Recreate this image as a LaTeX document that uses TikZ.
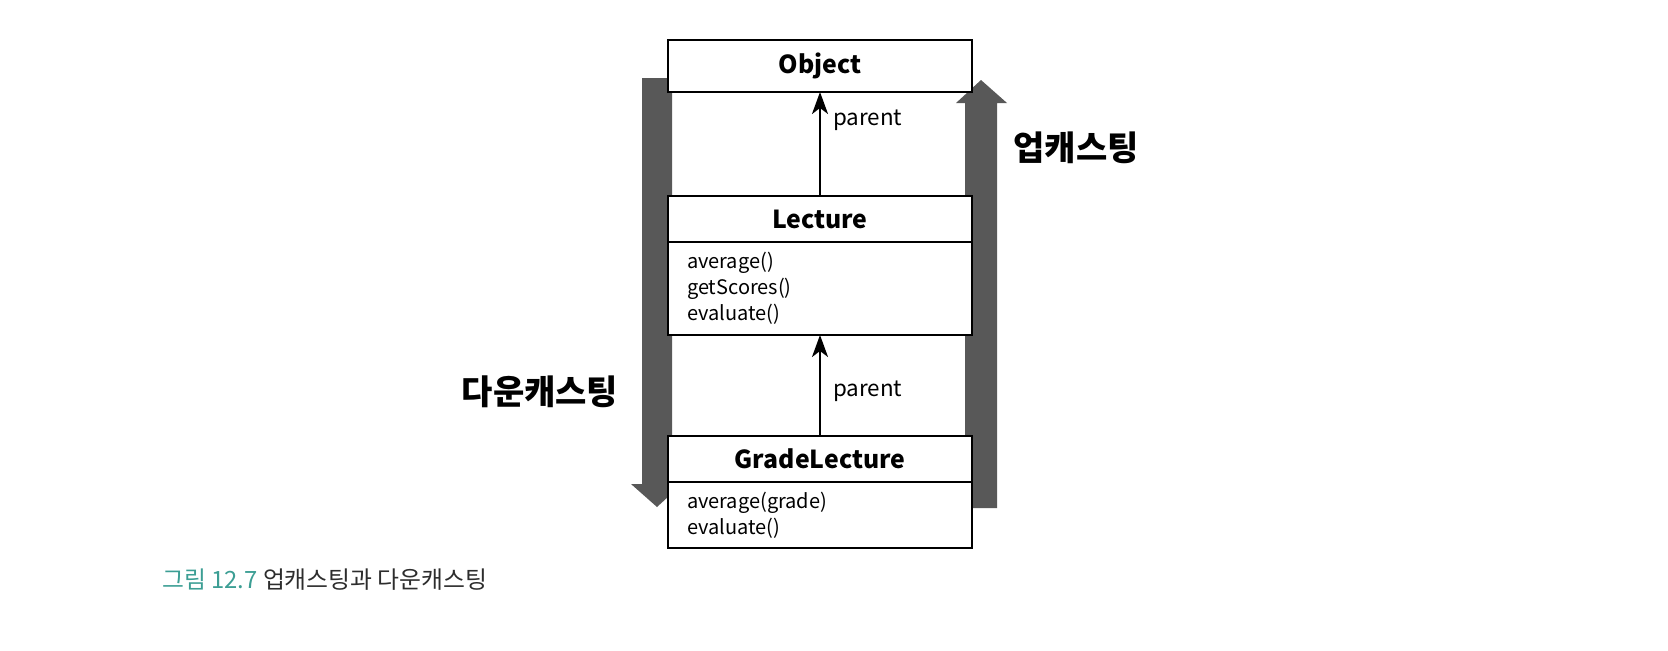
\documentclass[tikz,border=0pt]{standalone}
\usepackage{fontspec}
\setmainfont{Noto Sans CJK KR}
\usetikzlibrary{positioning,arrows.meta}
\definecolor{castgray}{RGB}{88,88,88}
\definecolor{capteal}{RGB}{60,158,148}
\definecolor{captext}{RGB}{45,45,45}
\tikzset{
  classname/.style={draw, line width=1pt, fill=white, minimum width=152pt, inner sep=0pt, outer sep=0pt, font=\fontsize{12.4}{15}\selectfont\bfseries},
  classbody/.style={draw, line width=1pt, fill=white, text width=133pt, inner xsep=9.5pt, inner ysep=0pt, outer sep=0pt, align=left, font=\fontsize{10}{13}\selectfont},
  inherit/.style={line width=1pt, -{Stealth[length=11pt,width=8pt,inset=3pt]}},
  parentlabel/.style={right, inner xsep=6pt, font=\fontsize{11.2}{13}\selectfont},
  castbar/.style={fill=castgray},
  castlabel/.style={font=\fontsize{17}{20}\selectfont\bfseries},
}
\begin{document}
\begin{tikzpicture}[x=0.5pt, y=-0.5pt]
  \useasboundingbox (0,0) rectangle (1668,650);
  \fill[castbar] (642,78) -- (672,78) -- (672,484) -- (682,484) -- (657,507) -- (631,484) -- (642,484) -- cycle;
  \fill[castbar] (965,508) -- (997,508) -- (997,103) -- (1007,103) -- (981,80) -- (956,103) -- (965,103) -- cycle;
  \node[classname, minimum height=26pt] (obj) at (820,66) {Object};
  \node[classname, minimum height=23pt] (lec) at (820,219) {Lecture};
  \node[classbody, minimum height=46.5pt, below=0pt of lec] (lecbody) {average()\\getScores()\\evaluate()};
  \node[classname, minimum height=23pt] (grade) at (820,459) {GradeLecture};
  \node[classbody, minimum height=33pt, below=0pt of grade] (gradebody) {average(grade)\\evaluate()};
  \draw[inherit] (lec.north) -- node[pos=0.73, parentlabel] {parent} (obj.south);
  \draw[inherit] (grade.north) -- node[pos=0.44, parentlabel] {parent} (lecbody.south);
  \node[castlabel] (up) at (1076,148) {업캐스팅};
  \node[castlabel] (down) at (540,392) {다운캐스팅};
  \node[anchor=west, inner sep=0pt, font=\fontsize{11.9}{14}\selectfont, text=captext] (cap) at (162,580) {\textcolor{capteal}{그림 12.7} 업캐스팅과 다운캐스팅};
\end{tikzpicture}
\end{document}
